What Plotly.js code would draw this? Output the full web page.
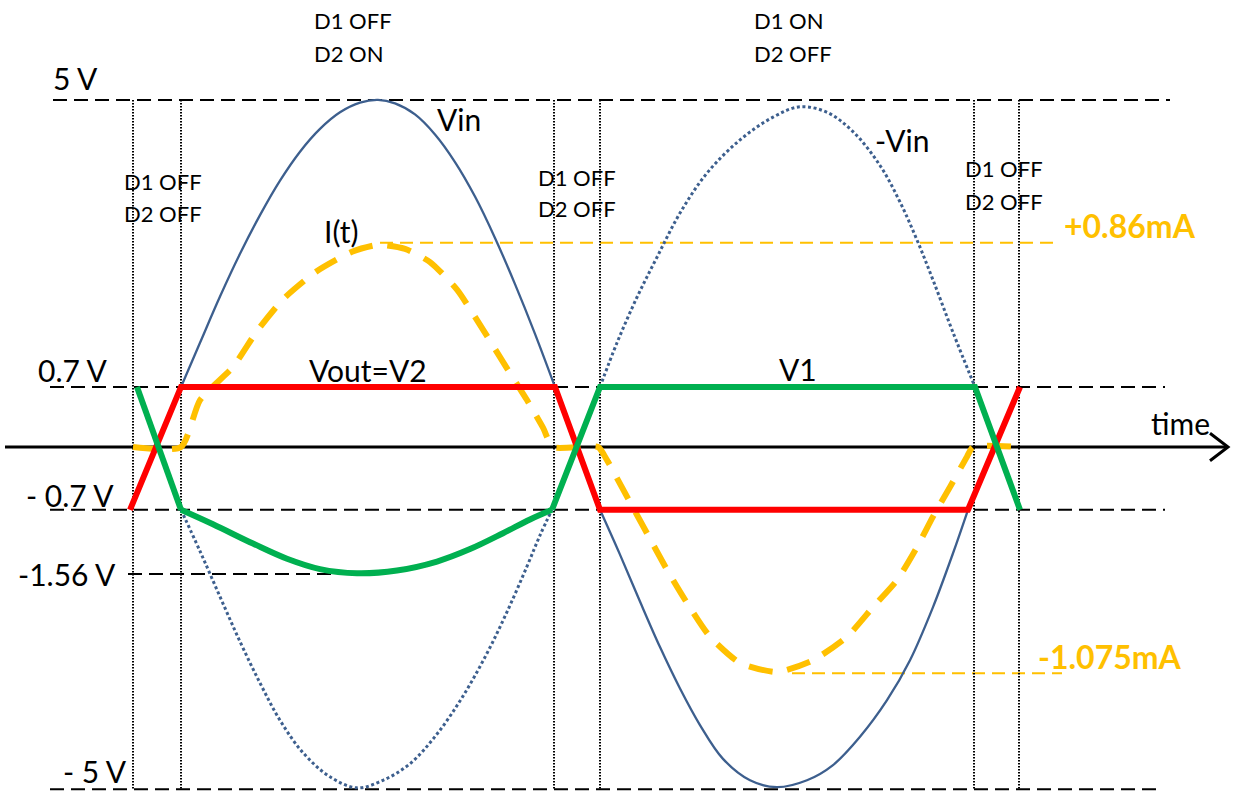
<!DOCTYPE html>
<html>
<head>
<meta charset="utf-8">
<script src="https://cdn.plot.ly/plotly-3.0.1.min.js"></script>
<style>html,body{margin:0;padding:0;background:#fff;}#chart{width:1233px;height:792px;}</style>
</head>
<body>
<div id="chart"></div>
<script>
// ---- Data (time in diagram units, voltage/current in diagram display units) ----
// Input voltage Vin (solid): positive arc and negative arc
const vinPosT = [181, 200, 220, 240, 260, 280, 300, 320, 340, 360, 378, 395, 415, 435, 455, 475, 495, 515, 535, 555];
const vinPosV = [0.87, 1.51, 2.18, 2.80, 3.36, 3.86, 4.28, 4.61, 4.85, 4.99, 5.03, 4.98, 4.82, 4.53, 4.13, 3.63, 3.03, 2.36, 1.64, 0.87];
const vinNegT = [600, 620, 640, 660, 680, 700, 723, 750, 777, 807, 833, 860, 887, 910, 933, 953, 968];
const vinNegV = [-0.91, -1.56, -2.24, -2.90, -3.50, -4.03, -4.52, -4.83, -4.93, -4.83, -4.61, -4.20, -3.67, -3.09, -2.32, -1.54, -0.91];
// Inverted input -Vin (dotted): negative arc and positive arc
const nvNegT = [181, 200, 220, 240, 260, 280, 303, 330, 357, 383, 410, 437, 463, 487, 507, 527, 540, 552];
const nvNegV = [-0.91, -1.51, -2.17, -2.82, -3.42, -3.96, -4.43, -4.78, -4.94, -4.83, -4.59, -4.16, -3.61, -2.99, -2.39, -1.73, -1.28, -0.91];
const nvPosT = [600, 617, 637, 657, 680, 707, 740, 773, 800, 827, 853, 880, 900, 917, 933, 953, 975];
const nvPosV = [0.87, 1.51, 2.17, 2.75, 3.39, 3.97, 4.45, 4.78, 4.93, 4.85, 4.57, 4.08, 3.55, 3.00, 2.42, 1.66, 0.87];
// Current I(t) (dashed)
const iT = [133, 181, 200, 233, 257, 283, 316, 352, 378, 405, 430, 457, 483, 507, 527, 543, 553, 598, 607, 627, 647, 667, 687, 710, 740, 777, 813, 847, 873, 897, 917, 933, 950, 967, 973, 1020];
const iV = [0, 0, 0.68, 1.16, 1.68, 2.14, 2.54, 2.83, 2.93, 2.87, 2.68, 2.28, 1.70, 1.14, 0.68, 0.28, 0, 0, -0.19, -0.72, -1.25, -1.78, -2.26, -2.75, -3.13, -3.26, -3.09, -2.75, -2.32, -1.93, -1.45, -1.01, -0.58, -0.14, 0, 0];
// Vout = V2 (red)
const v2T = [130, 181, 555, 600, 968, 1020];
const v2V = [-0.91, 0.87, 0.87, -0.91, -0.91, 0.87];
// V1 (green): straight parts and the curved dip
const v1T = [137, 181, null, 552, 600, 975, 1020];
const v1V = [0.87, -0.91, null, -0.91, 0.87, 0.87, -0.91];
const v1DipT = [181, 213, 253, 287, 320, 357, 397, 437, 470, 503, 530, 552];
const v1DipV = [-0.91, -1.12, -1.40, -1.62, -1.77, -1.83, -1.79, -1.66, -1.48, -1.25, -1.05, -0.91];
// Reference voltage levels (dashed black)
const levelV = [5.03, 0.87, -0.91, -1.84, -4.96];
const levelFrom = [53, 50, 50, 128, 50];
const levelTo = [1170, 1165, 1165, 360, 1160];
const levelLabels = ['5 V', '0.7 V', '- 0.7 V', '-1.56 V', '- 5 V'];
// Current extremes (dashed orange)
const curV = [2.96, -3.28];
const curFrom = [380, 792];
const curTo = [1055, 1062];
const curLabels = ['+0.86mA', '-1.075mA'];
// Diode switching instants (dotted verticals)
const switchT = [133, 181, 554, 600, 974, 1019];
const switchTop = 5.03, switchBottom = -4.97;
// Time axis
const axisFrom = 5, axisTo = 1228;

// ---- Build traces ----
function segs(xs0, xs1, ys0, ys1) {
  const x = [], y = [];
  for (let i = 0; i < xs0.length; i++) { x.push(xs0[i], xs1[i], null); y.push(ys0[i], ys1[i], null); }
  return {x, y};
}
const traces = [];
const lv = segs(levelFrom, levelTo, levelV, levelV);
traces.push({x: lv.x, y: lv.y, mode: 'lines', line: {color: '#000', width: 2, dash: '14px,7px'}, hoverinfo: 'skip'});
const cv = segs(curFrom, curTo, curV, curV);
traces.push({x: cv.x, y: cv.y, mode: 'lines', line: {color: '#FFC000', width: 2, dash: '13px,7px'}, hoverinfo: 'skip'});
const sv = segs(switchT, switchT, switchT.map(() => switchTop), switchT.map(() => switchBottom));
traces.push({x: sv.x, y: sv.y, mode: 'lines', line: {color: '#000', width: 2, dash: '1.6px,1.4px'}, hoverinfo: 'skip'});
// time axis with chevron arrow
traces.push({x: [axisFrom, axisTo], y: [0, 0], mode: 'lines', line: {color: '#000', width: 3}, hoverinfo: 'skip'});
traces.push({x: [axisTo - 18, axisTo, axisTo - 18], y: [0.2, 0, -0.2], mode: 'lines', line: {color: '#000', width: 3}, hoverinfo: 'skip'});
const vinLine = {color: '#3D5F8E', width: 2.3, shape: 'spline', smoothing: 1};
traces.push({x: vinPosT, y: vinPosV, mode: 'lines', line: vinLine, hoverinfo: 'skip'});
traces.push({x: vinNegT, y: vinNegV, mode: 'lines', line: vinLine, hoverinfo: 'skip'});
const nvLine = {color: '#3D5F8E', width: 3, dash: '3px,2.6px', shape: 'spline', smoothing: 1};
traces.push({x: nvNegT, y: nvNegV, mode: 'lines', line: nvLine, hoverinfo: 'skip'});
traces.push({x: nvPosT, y: nvPosV, mode: 'lines', line: nvLine, hoverinfo: 'skip'});
traces.push({x: iT, y: iV, mode: 'lines', line: {color: '#FFC000', width: 6, dash: '24px,15px', shape: 'spline', smoothing: 0.6}, hoverinfo: 'skip'});
traces.push({x: v2T, y: v2V, mode: 'lines', line: {color: '#FF0000', width: 6}, hoverinfo: 'skip'});
traces.push({x: v1T, y: v1V, mode: 'lines', line: {color: '#00B050', width: 6}, hoverinfo: 'skip', connectgaps: false});
traces.push({x: v1DipT, y: v1DipV, mode: 'lines', line: {color: '#00B050', width: 6, shape: 'spline', smoothing: 1}, hoverinfo: 'skip'});

// ---- Text (placed in pixel positions on the page) ----
const W = 1233, H = 792;
const F = 'Lato, "Open Sans", sans-serif';
function ann(text, px, py, size, anchor, extra) {
  return Object.assign({text: text, xref: 'paper', yref: 'paper', x: px / W, y: 1 - py / H,
    xanchor: anchor || 'center', yanchor: 'middle', showarrow: false,
    font: {family: F, size: size, color: '#000'}}, extra || {});
}
const annotations = [
  ann(levelLabels[0], 75, 78, 30),
  ann(levelLabels[1], 72, 370, 30),
  ann(levelLabels[2], 70, 495, 30),
  ann(levelLabels[3], 67, 574, 30),
  ann(levelLabels[4], 95, 771, 30),
  ann('time', 1180, 423, 30),
  ann('Vin', 459, 119, 30),
  ann('-Vin', 902, 140, 30),
  ann('I(t)', 341, 231, 30),
  ann('Vout=V2', 368, 370, 30),
  ann('V1', 798, 369, 30),
  ann('D1 OFF', 312, 21, 22, 'left'), ann('D2 ON', 312, 53, 22, 'left'),
  ann('D1 ON', 752, 21, 22, 'left'), ann('D2 OFF', 752, 53, 22, 'left'),
  ann('D1 OFF', 122, 181, 22, 'left'), ann('D2 OFF', 122, 213, 22, 'left'),
  ann('D1 OFF', 536, 177, 22, 'left'), ann('D2 OFF', 536, 209, 22, 'left'),
  ann('D1 OFF', 963, 169, 22, 'left'), ann('D2 OFF', 963, 202, 22, 'left'),
  ann('<b>' + curLabels[0] + '</b>', 1062, 225, 32, 'left', {font: {family: F, size: 32, color: '#FFC000'}}),
  ann('<b>' + curLabels[1] + '</b>', 1036, 656, 32, 'left', {font: {family: F, size: 32, color: '#FFC000'}})
];

const layout = {
  width: W, height: H,
  margin: {l: 0, r: 0, t: 0, b: 0},
  paper_bgcolor: '#fff', plot_bgcolor: '#fff',
  showlegend: false,
  xaxis: {range: [0, 1233], visible: false, fixedrange: true},
  yaxis: {range: [-5.0, 6.478], visible: false, fixedrange: true},
  annotations: annotations
};
Plotly.newPlot('chart', traces, layout, {displayModeBar: false, staticPlot: true});
</script>
</body>
</html>
